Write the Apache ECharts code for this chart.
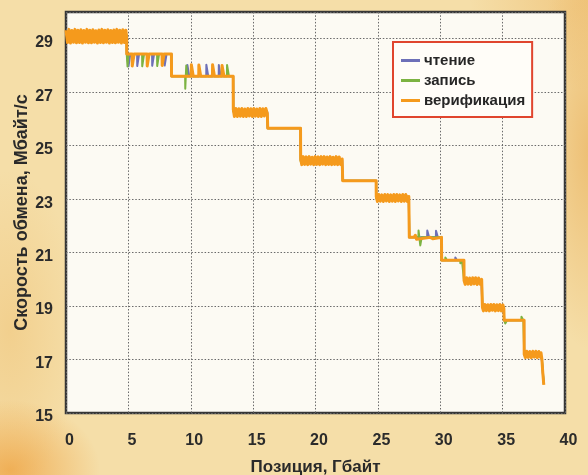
<!DOCTYPE html>
<html>
<head>
<meta charset="utf-8">
<script src="https://cdn.jsdelivr.net/npm/echarts@6/dist/echarts.min.js"></script>
<style>
  html, body { margin: 0; padding: 0; }
  #chart {
    width: 588px; height: 475px;
    background:
      radial-gradient(ellipse 90px 70px at 10px 470px, rgba(238,160,60,0.75), rgba(238,160,60,0) 100%),
      radial-gradient(ellipse 60px 200px at 590px 150px, rgba(232,170,80,0.6), rgba(232,170,80,0) 100%),
      radial-gradient(ellipse 120px 90px at 590px 0px, rgba(236,180,95,0.55), rgba(236,180,95,0) 100%),
      radial-gradient(ellipse 70px 160px at 10px 330px, rgba(238,190,110,0.45), rgba(238,190,110,0) 100%),
      #f5dea8;
  }
</style>
</head>
<body>
<div id="chart"></div>
<script>
// Axis ticks
const xTicks = [0, 5, 10, 15, 20, 25, 30, 35, 40];
const yTicks = [15, 17, 19, 21, 23, 25, 27, 29];
const yTop = 30;

const seriesNames = ['чтение', 'запись', 'верификация'];

// Transfer rate (MB/s) against position (GB): read pass
const readPoints = [
  [0,29.2],[0.3,28.95],[0.6,29.25],[0.9,28.96],[1.2,29.24],[1.5,28.95],[1.8,29.25],[2.1,28.97],[2.4,29.24],[2.7,28.95],
  [3.0,29.25],[3.3,28.96],[3.6,29.23],[3.9,28.95],[4.2,29.25],[4.5,28.96],[4.8,29.2],[4.86,29.1],
  [4.87,28.43],
  [5.0,28.43],[5.01,27.97],[5.15,27.97],[5.16,28.43],
  [5.7,28.43],[5.71,27.98],[5.85,27.98],[5.86,28.43],
  [6.9,28.43],[6.91,27.99],[7.05,27.99],[7.06,28.43],
  [7.9,28.43],[7.91,28.0],[8.05,28.0],[8.06,28.43],
  [8.45,28.43],[8.46,27.6],
  [9.72,27.6],[9.73,28.02],[9.87,28.02],[9.88,27.6],
  [11.24,27.6],[11.25,28.03],[11.39,28.03],[11.4,27.6],
  [12.24,27.6],[12.25,28.02],[12.39,28.02],[12.4,27.6],
  [13.4,27.6],[13.41,26.3],
  [13.6,26.15],[13.9,26.32],[14.2,26.16],[14.5,26.33],[14.8,26.15],[15.1,26.32],[15.4,26.16],[15.7,26.33],[16.0,26.16],[16.14,26.25],
  [16.17,25.65],[18.8,25.65],[18.81,24.45],
  [19.0,24.35],[19.3,24.53],[19.6,24.36],[19.9,24.52],[20.2,24.35],[20.5,24.53],[20.8,24.36],[21.1,24.52],[21.4,24.35],[21.7,24.53],[22.0,24.36],[22.14,24.45],
  [22.18,23.69],[24.86,23.69],[24.87,23.05],
  [25.1,22.96],[25.4,23.12],[25.7,22.97],[26.0,23.12],[26.3,22.96],[26.6,23.12],[26.9,22.97],[27.2,23.12],[27.48,23.0],
  [27.52,21.57],
  [28.95,21.57],[28.96,21.83],[29.1,21.83],[29.11,21.57],
  [29.65,21.57],[29.66,21.82],[29.8,21.82],[29.81,21.57],
  [30.1,21.57],[30.11,20.71],
  [31.2,20.71],[31.21,20.82],[31.33,20.82],[31.34,20.71],
  [31.9,20.71],[31.91,19.95],
  [32.1,19.86],[32.4,20.01],[32.7,19.86],[33.0,20.01],[33.3,19.9],
  [33.38,18.95],
  [33.6,18.87],[33.9,19.01],[34.2,18.87],[34.5,19.01],[34.8,18.88],[35.1,18.95],
  [35.12,18.47],[36.72,18.47],[36.73,17.2],
  [36.9,17.12],[37.2,17.26],[37.5,17.12],[37.8,17.26],[38.05,17.15],
  [38.15,16.95],[38.22,16.5],[38.3,16.1]
];

// Write pass
const writePoints = [
  [0,29.25],[0.15,28.9],[0.2,29.25],[0.45,28.95],[0.75,29.25],[1.05,28.96],[1.35,29.24],[1.65,28.95],[1.95,29.25],[2.25,28.96],
  [2.55,29.24],[2.85,28.95],[3.15,29.25],[3.45,28.96],[3.75,29.24],[4.05,28.95],[4.35,29.25],[4.65,28.96],[4.86,29.15],
  [4.87,28.43],
  [4.92,28.43],[4.93,27.96],[5.0,27.96],[5.01,28.43],
  [6.1,28.43],[6.11,27.97],[6.25,27.97],[6.26,28.43],
  [7.3,28.43],[7.31,27.98],[7.45,27.98],[7.46,28.43],
  [8.45,28.43],[8.46,27.6],
  [9.55,27.6],[9.56,27.13],[9.63,27.13],[9.64,28.0],[9.72,28.0],[9.73,27.6],
  [12.9,27.6],[12.91,28.02],[13.05,28.02],[13.06,27.6],
  [13.4,27.6],[13.41,26.28],
  [13.7,26.16],[14.0,26.33],[14.3,26.15],[14.6,26.32],[14.9,26.16],[15.2,26.33],[15.5,26.15],[15.8,26.32],[16.1,26.18],
  [16.17,25.65],[18.8,25.65],[18.81,24.42],
  [19.1,24.36],[19.4,24.52],[19.7,24.35],[20.0,24.53],[20.3,24.36],[20.6,24.52],[20.9,24.35],[21.2,24.53],[21.5,24.36],[21.8,24.52],[22.1,24.4],
  [22.18,23.69],[24.86,23.69],[24.87,23.02],
  [25.2,22.97],[25.5,23.12],[25.8,22.96],[26.1,23.12],[26.4,22.97],[26.7,23.12],[27.0,22.96],[27.3,23.12],[27.48,23.02],
  [27.52,21.57],
  [28.25,21.57],[28.26,21.83],[28.36,21.83],[28.4,21.27],[28.5,21.27],[28.51,21.57],
  [30.1,21.57],[30.11,20.71],
  [30.4,20.71],[30.41,20.82],[30.53,20.82],[30.54,20.71],
  [31.6,20.71],[31.61,20.6],[31.73,20.6],[31.74,20.71],
  [31.9,20.71],[31.91,19.95],
  [32.2,19.86],[32.5,20.01],[32.8,19.86],[33.1,20.01],[33.34,19.9],
  [33.38,18.95],
  [33.7,18.87],[34.0,19.01],[34.3,18.87],[34.6,19.01],[34.9,18.88],[35.1,18.95],
  [35.12,18.47],
  [35.2,18.47],[35.21,18.35],[35.35,18.35],[35.36,18.47],
  [36.5,18.47],[36.51,18.6],[36.65,18.6],[36.66,18.47],
  [36.72,18.47],[36.73,17.2],
  [37.0,17.12],[37.3,17.26],[37.6,17.12],[37.9,17.26],[38.05,17.18],
  [38.15,17.0],[38.22,16.6],[38.3,16.1]
];

// Verify pass
const verifyPoints = [
  [0,29.32],[0.12,28.86],[0.24,29.35],[0.36,28.84],[0.48,29.31],[0.6,28.87],[0.72,29.35],[0.84,28.85],[0.96,29.32],[1.08,28.86],
  [1.2,29.34],[1.32,28.84],[1.44,29.31],[1.56,28.87],[1.68,29.35],[1.8,28.85],[1.92,29.32],[2.04,28.85],[2.16,29.34],[2.28,28.87],
  [2.4,29.3],[2.52,28.84],[2.64,29.33],[2.76,28.86],[2.88,29.35],[3.0,28.85],[3.12,29.32],[3.24,28.87],[3.36,29.34],[3.48,28.84],
  [3.6,29.31],[3.72,28.86],[3.84,29.33],[3.96,28.85],[4.08,29.35],[4.2,28.87],[4.32,29.32],[4.44,28.84],[4.56,29.34],[4.68,28.86],
  [4.8,29.32],[4.86,29.05],
  [4.87,28.43],
  [5.3,28.43],[5.31,27.98],[5.45,27.98],[5.46,28.43],
  [6.5,28.43],[6.51,27.98],[6.65,27.98],[6.66,28.43],
  [7.7,28.43],[7.71,28.0],[7.85,28.0],[7.86,28.43],
  [8.45,28.43],[8.46,27.6],
  [10.04,27.6],[10.05,28.03],[10.19,28.03],[10.2,27.6],
  [10.64,27.6],[10.65,28.02],[10.79,28.02],[10.8,27.6],
  [11.74,27.6],[11.75,28.03],[11.89,28.03],[11.9,27.6],
  [12.5,27.6],[12.51,28.0],[12.65,28.0],[12.66,27.6],
  [13.4,27.6],[13.41,26.35],
  [13.5,26.09],[13.62,26.39],[13.74,26.09],[13.86,26.38],[13.98,26.1],[14.1,26.39],[14.22,26.09],[14.34,26.37],[14.46,26.09],[14.58,26.39],
  [14.7,26.11],[14.82,26.38],[14.94,26.09],[15.06,26.39],[15.18,26.1],[15.3,26.37],[15.42,26.09],[15.54,26.39],[15.66,26.09],[15.78,26.38],
  [15.9,26.11],[16.02,26.39],[16.14,26.2],
  [16.17,25.65],[18.8,25.65],[18.81,24.5],
  [18.9,24.29],[19.02,24.59],[19.14,24.3],[19.26,24.58],[19.38,24.29],[19.5,24.59],[19.62,24.31],[19.74,24.57],[19.86,24.29],[19.98,24.59],
  [20.1,24.3],[20.22,24.58],[20.34,24.29],[20.46,24.59],[20.58,24.31],[20.7,24.59],[20.82,24.29],[20.94,24.58],[21.06,24.3],[21.18,24.59],
  [21.3,24.29],[21.42,24.57],[21.54,24.3],[21.66,24.59],[21.78,24.29],[21.9,24.58],[22.02,24.3],[22.14,24.5],
  [22.18,23.69],[24.86,23.69],[24.87,23.1],
  [24.96,22.91],[25.08,23.17],[25.2,22.92],[25.32,23.16],[25.44,22.91],[25.56,23.17],[25.68,22.93],[25.8,23.17],[25.92,22.91],[26.04,23.16],
  [26.16,22.92],[26.28,23.17],[26.4,22.91],[26.52,23.17],[26.64,22.93],[26.76,23.16],[26.88,22.91],[27.0,23.17],[27.12,22.92],[27.24,23.17],
  [27.36,22.91],[27.48,23.1],
  [27.52,21.57],
  [27.9,21.57],[28.0,21.65],[28.1,21.5],[28.2,21.57],[29.2,21.57],[29.3,21.64],[29.4,21.52],[29.5,21.57],
  [30.1,21.57],[30.11,20.71],
  [31.9,20.71],[31.91,19.95],
  [32.0,19.81],[32.12,20.06],[32.24,19.82],[32.36,20.05],[32.48,19.81],[32.6,20.06],[32.72,19.83],[32.84,20.06],[32.96,19.81],[33.08,20.05],
  [33.2,19.82],[33.32,20.0],
  [33.38,18.95],
  [33.46,18.82],[33.58,19.06],[33.7,18.83],[33.82,19.05],[33.94,18.82],[34.06,19.06],[34.18,18.84],[34.3,19.06],[34.42,18.82],[34.54,19.05],
  [34.66,18.83],[34.78,19.06],[34.9,18.82],[35.02,19.04],[35.1,18.9],
  [35.12,18.47],[36.72,18.47],[36.73,17.2],
  [36.82,17.07],[36.94,17.31],[37.06,17.08],[37.18,17.3],[37.3,17.07],[37.42,17.31],[37.54,17.09],[37.66,17.31],[37.78,17.07],[37.9,17.3],
  [38.02,17.09],[38.08,17.25],
  [38.15,17.0],[38.22,16.5],[38.3,16.05]
];

const colors = ['#6d70b8', '#7cb342', '#f59a1c'];
const widths = [2, 2, 3];
const font = '"Liberation Sans", Arial, sans-serif';

const chart = echarts.init(document.getElementById('chart'), null, { renderer: 'canvas' });

const gridStyle = { color: '#6a6a6a', width: 1, type: [1.5, 1.8] };

chart.setOption({
  animation: false,
  backgroundColor: 'transparent',
  color: colors,
  grid: {
    left: 66, right: 23, top: 12, bottom: 62,
    outerBoundsMode: 'none',
    containLabel: false,
    show: true,
    backgroundColor: '#fcfaf3',
    borderColor: '#363636',
    borderWidth: 2.5
  },
  legend: {
    orient: 'vertical',
    left: 393, top: 42,
    backgroundColor: '#fffdf8',
    borderColor: '#e0452e',
    borderWidth: 2,
    borderRadius: 0,
    padding: [11, 7, 9, 8],
    itemWidth: 19, itemHeight: 3,
    itemGap: 5,
    icon: 'rect',
    data: seriesNames,
    textStyle: { fontFamily: font, fontSize: 15, fontWeight: 'bold', color: '#262626', padding: [0, 0, 0, -1] }
  },
  xAxis: {
    type: 'value',
    min: xTicks[0], max: xTicks[xTicks.length - 1], interval: xTicks[1] - xTicks[0],
    name: 'Позиция, Гбайт',
    nameLocation: 'middle',
    nameGap: 46,
    nameMoveOverlap: false,
    nameTextStyle: { fontFamily: font, fontSize: 17, fontWeight: 'bold', color: '#2a2a2a' },
    axisLine: { show: false },
    axisTick: { show: false },
    axisLabel: { fontFamily: font, fontSize: 16, fontWeight: 'bold', color: '#2b2b2b', margin: 20, padding: [0, 0, 0, 7] },
    splitLine: { show: true, lineStyle: gridStyle }
  },
  yAxis: {
    type: 'value',
    min: yTicks[0], max: yTop, interval: yTicks[1] - yTicks[0],
    name: 'Скорость обмена, Мбайт/с',
    nameLocation: 'middle',
    nameGap: 35,
    nameMoveOverlap: false,
    nameTextStyle: { fontFamily: font, fontSize: 18, fontWeight: 'bold', color: '#2a2a2a' },
    axisLine: { show: false },
    axisTick: { show: false },
    axisLabel: {
      fontFamily: font, fontSize: 16, fontWeight: 'bold', color: '#2b2b2b', margin: 13,
      verticalAlign: 'top', lineHeight: 8,
      showMaxLabel: false,
      formatter: v => (yTicks.indexOf(v) >= 0 ? String(v) : '')
    },
    splitLine: { show: true, lineStyle: gridStyle }
  },
  series: [readPoints, writePoints, verifyPoints].map((pts, i) => ({
    name: seriesNames[i],
    type: 'line',
    data: pts,
    showSymbol: false,
    symbol: 'none',
    lineStyle: { color: colors[i], width: widths[i], join: 'round' },
    itemStyle: { color: colors[i] },
    z: 3 + i
  }))
});
</script>
</body>
</html>
